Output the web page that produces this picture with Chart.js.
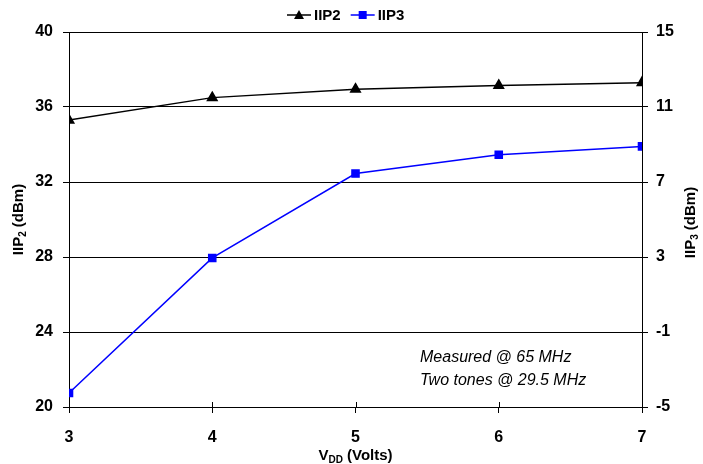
<!DOCTYPE html>
<html>
<head>
<meta charset="utf-8">
<script src="https://cdn.jsdelivr.net/npm/chart.js@4/dist/chart.umd.min.js"></script>
<style>
  html, body { margin: 0; padding: 0; background: #fff; }
  canvas { display: block; }
</style>
</head>
<body>
<canvas id="chart" width="703" height="464"></canvas>
<script>
const vdd = [3, 4, 5, 6, 7];
const iip2 = [35.3, 36.5, 36.95, 37.15, 37.3];
const iip3 = [-4.25, 2.95, 7.45, 8.45, 8.9];
const leftTicks = [20, 24, 28, 32, 36, 40];
const rightTicks = [-5, -1, 3, 7, 11, 15];
const notes = ['Measured @ 65 MHz', 'Two tones @ 29.5 MHz'];

const FONT = '"Liberation Sans", Arial, sans-serif';

// titles with subscripts, legend and the note are drawn by hand
const extras = {
  id: 'extras',
  afterDraw(chart) {
    const ctx = chart.ctx;
    const area = chart.chartArea;
    ctx.save();
    ctx.fillStyle = '#000';

    function subText(parts, x, y) {
      let w = 0;
      parts.forEach(p => {
        ctx.font = p[1] ? 'bold 10px ' + FONT : 'bold 15px ' + FONT;
        w += ctx.measureText(p[0]).width;
      });
      let cx = x - w / 2;
      ctx.textBaseline = 'alphabetic';
      ctx.textAlign = 'left';
      parts.forEach(p => {
        ctx.font = p[1] ? 'bold 10px ' + FONT : 'bold 15px ' + FONT;
        ctx.fillText(p[0], cx, y + (p[1] ? 3 : 0));
        cx += ctx.measureText(p[0]).width;
      });
    }

    const midY = (area.top + area.bottom) / 2;
    ctx.save();
    ctx.translate(23, midY);
    ctx.rotate(-Math.PI / 2);
    subText([['IIP', false], ['2', true], [' (dBm)', false]], 0, 0);
    ctx.restore();

    ctx.save();
    ctx.translate(695, midY + 3);
    ctx.rotate(-Math.PI / 2);
    subText([['IIP', false], ['3', true], [' (dBm)', false]], 0, 0);
    ctx.restore();

    subText([['V', false], ['DD', true], [' (Volts)', false]], (area.left + area.right) / 2, 460);

    // x ticks also poke up into the plot a little
    const xs = chart.scales.x;
    ctx.strokeStyle = '#000';
    ctx.lineWidth = 1;
    vdd.forEach(v => {
      const px = Math.round(xs.getPixelForValue(v)) + 0.5;
      ctx.beginPath();
      ctx.moveTo(px, area.bottom - 5);
      ctx.lineTo(px, area.bottom);
      ctx.stroke();
    });

    // legend
    const ds = chart.data.datasets;
    let lx = 287;
    const ly = 15;
    ds.forEach(d => {
      ctx.strokeStyle = d.borderColor;
      ctx.lineWidth = 1.5;
      ctx.beginPath();
      ctx.moveTo(lx, ly);
      ctx.lineTo(lx + 24, ly);
      ctx.stroke();
      ctx.fillStyle = d.borderColor;
      const mx = lx + 12;
      if (d.pointStyle === 'triangle') {
        ctx.beginPath();
        ctx.moveTo(mx, ly - 5);
        ctx.lineTo(mx + 5, ly + 4);
        ctx.lineTo(mx - 5, ly + 4);
        ctx.closePath();
        ctx.fill();
      } else {
        ctx.fillRect(mx - 4, ly - 4, 8, 8);
      }
      ctx.fillStyle = '#000';
      ctx.font = 'bold 15px ' + FONT;
      ctx.textAlign = 'left';
      ctx.textBaseline = 'middle';
      ctx.fillText(d.label, lx + 27, ly + 1);
      lx += 27 + ctx.measureText(d.label).width + 10;
    });

    // note
    ctx.font = 'italic 16px ' + FONT;
    ctx.textAlign = 'left';
    ctx.textBaseline = 'middle';
    ctx.fillStyle = '#000';
    ctx.fillText(notes[0], 420, 358);
    ctx.fillText(notes[1], 420, 381);
    ctx.restore();
  }
};

new Chart(document.getElementById('chart'), {
  type: 'line',
  data: {
    datasets: [
      {
        label: 'IIP2',
        data: vdd.map((v, i) => ({ x: v, y: iip2[i] })),
        yAxisID: 'y',
        borderColor: '#000000',
        backgroundColor: '#000000',
        borderWidth: 1.5,
        pointStyle: 'triangle',
        pointRadius: 5.5,
        tension: 0
      },
      {
        label: 'IIP3',
        data: vdd.map((v, i) => ({ x: v, y: iip3[i] })),
        yAxisID: 'y2',
        borderColor: '#0000ff',
        backgroundColor: '#0000ff',
        borderWidth: 1.5,
        pointStyle: 'rect',
        pointRadius: 5,
        tension: 0
      }
    ]
  },
  options: {
    responsive: false,
    animation: false,
    layout: { padding: { top: 32, left: 0, right: 0, bottom: 0 } },
    plugins: {
      legend: { display: false },
      tooltip: { enabled: false }
    },
    scales: {
      x: {
        type: 'linear',
        min: 3,
        max: 7,
        afterBuildTicks: axis => { axis.ticks = vdd.map(v => ({ value: v })); },
        afterFit: axis => { axis.height = 57; },
        ticks: { color: '#000', font: { family: FONT, size: 16, weight: 'bold' }, padding: 15 },
        grid: { drawOnChartArea: false, drawTicks: true, tickLength: 6, color: '#000' },
        border: { color: '#000', width: 1 }
      },
      y: {
        position: 'left',
        min: 20,
        max: 40,
        afterBuildTicks: axis => { axis.ticks = leftTicks.map(v => ({ value: v })); },
        afterFit: axis => { axis.width = 69; },
        ticks: { color: '#000', font: { family: FONT, size: 16, weight: 'bold' }, padding: 10 },
        grid: { color: '#000', lineWidth: 1, tickLength: 6 },
        border: { color: '#000', width: 1 }
      },
      y2: {
        position: 'right',
        min: -5,
        max: 15,
        afterBuildTicks: axis => { axis.ticks = rightTicks.map(v => ({ value: v })); },
        afterFit: axis => { axis.width = 61; },
        ticks: { color: '#000', font: { family: FONT, size: 16, weight: 'bold' }, padding: 8 },
        grid: { drawOnChartArea: false, color: '#000', tickLength: 6 },
        border: { color: '#000', width: 1 }
      }
    }
  },
  plugins: [extras]
});
</script>
</body>
</html>
